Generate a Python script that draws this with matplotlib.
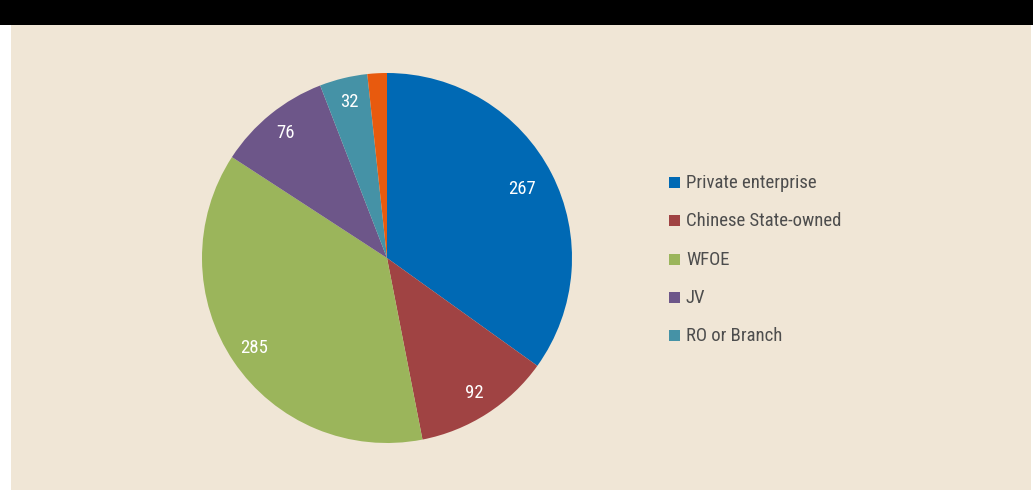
import matplotlib
matplotlib.use("Agg")
import matplotlib.pyplot as plt
from matplotlib.patches import Rectangle
import numpy as np

categories = ["Private enterprise", "Chinese State-owned", "WFOE", "JV", "RO or Branch", "Other"]
values = [267, 92, 285, 76, 32, 13]
labels_shown = ["267", "92", "285", "76", "32", ""]
legend_items = ["Private enterprise", "Chinese State-owned", "WFOE", "JV", "RO or Branch"]
colors = ["#0069B4", "#A04343", "#9BB55B", "#6D5689", "#4592A6", "#E85A0E"]

W, H = 1033, 492
fig = plt.figure(figsize=(W / 100, H / 100), dpi=100)
fig.patch.set_facecolor("white")

bg = fig.add_axes([0, 0, 1, 1])
bg.set_xlim(0, W)
bg.set_ylim(H, 0)
bg.axis("off")
bg.add_patch(Rectangle((11, 25), 1020, 465, facecolor="#F0E6D6", edgecolor="none"))
bg.add_patch(Rectangle((0, 0), W, 25, facecolor="black", edgecolor="none"))

fontfam = ["Roboto Condensed", "Roboto", "DejaVu Sans"]

cx, cy, R = 387, 258, 185
ax = fig.add_axes([(cx - R) / W, (H - cy - R) / H, 2 * R / W, 2 * R / H])
ax.set_facecolor("none")
wedges, _ = ax.pie(values, colors=colors, startangle=90, counterclock=False,
                   wedgeprops=dict(linewidth=0))
ax.set_aspect("equal")
ax.set_xlim(-1, 1)
ax.set_ylim(-1, 1)
dists = [0.82, 0.87, 0.87, 0.87, 0.87, 0.87]
for w, lab, d in zip(wedges, labels_shown, dists):
    if not lab:
        continue
    th = np.deg2rad((w.theta1 + w.theta2) / 2)
    ax.text(d * np.cos(th), d * np.sin(th), lab, color="white", fontsize=13.5,
            ha="center", va="center", family=fontfam)

# legend
for i, name in enumerate(legend_items):
    y = 183 + i * 38.3
    bg.add_patch(Rectangle((669, y - 6), 11, 11, facecolor=colors[i], edgecolor="none"))
    bg.text(686, y, name, color="#4D4D4D", fontsize=13.5, ha="left", va="center",
            family=fontfam)

fig.savefig("out.png", dpi=100, facecolor=fig.get_facecolor())
